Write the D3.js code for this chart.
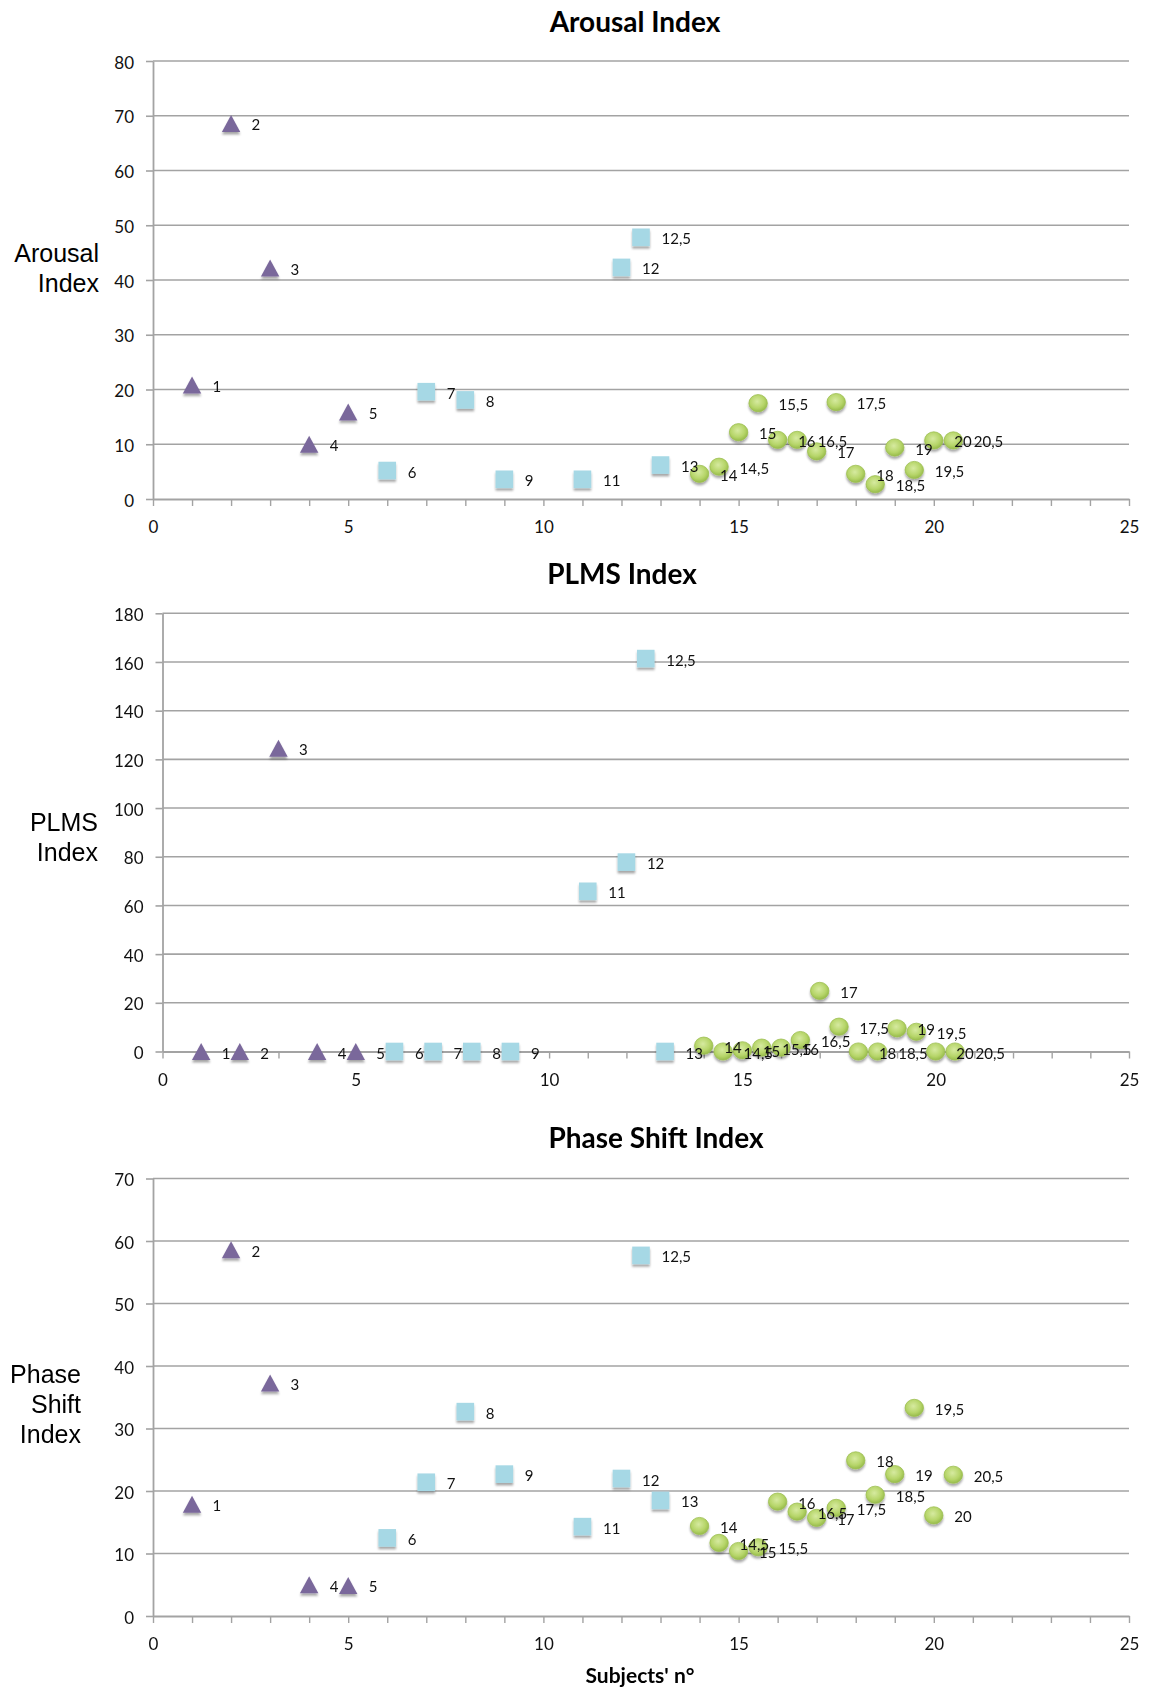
<!DOCTYPE html>
<html>
<head>
<meta charset="utf-8">
<script src="https://cdn.jsdelivr.net/npm/d3@7"></script>
<style>
  html, body { margin: 0; padding: 0; background: #fff; }
  svg { display: block; }
</style>
</head>
<body>
<svg id="chart" width="1149" height="1690"></svg>
<script>
// Subject numbers per group (shared by all three panels)
const triangleSubjects = [1, 2, 3, 4, 5];
const squareSubjects = [6, 7, 8, 9, 11, 12, 12.5, 13];
const circleSubjects = [14, 14.5, 15, 15.5, 16, 16.5, 17, 17.5, 18, 18.5, 19, 19.5, 20, 20.5];

// Arousal Index
const arousalTriangles = [20.8, 68.6, 42.2, 10.0, 15.9];
const arousalSquares = [5.2, 19.6, 18.1, 3.6, 3.6, 42.3, 47.8, 6.2];
const arousalCircles = [4.6, 5.9, 12.2, 17.5, 10.8, 10.8, 8.7, 17.7, 4.6, 2.7, 9.4, 5.3, 10.7, 10.7];

// PLMS Index
const plmsTriangles = [0, 0, 124.6, 0, 0];
const plmsSquares = [0, 0, 0, 0, 65.8, 77.8, 161.4, 0];
const plmsCircles = [2.4, 0, 0.5, 1.6, 1.6, 4.7, 24.9, 10.2, 0, 0, 9.5, 8.1, 0, 0];

// Phase Shift Index
const phaseTriangles = [17.9, 58.6, 37.3, 5.0, 4.9];
const phaseSquares = [12.5, 21.4, 32.7, 22.7, 14.3, 22.0, 57.7, 18.5];
const phaseCircles = [14.4, 11.7, 10.4, 11.0, 18.3, 16.7, 15.7, 17.3, 24.9, 19.4, 22.7, 33.3, 16.1, 22.6];

// Axis tick values
const xTicks = [0, 5, 10, 15, 20, 25];
const arousalTicks = [0, 10, 20, 30, 40, 50, 60, 70, 80];
const plmsTicks = [0, 20, 40, 60, 80, 100, 120, 140, 160, 180];
const phaseTicks = [0, 10, 20, 30, 40, 50, 60, 70];

const titles = ["Arousal Index", "PLMS Index", "Phase Shift Index"];
const yTitles = [["Arousal", "Index"], ["PLMS", "Index"], ["Phase", "Shift", "Index"]];
const xTitle = "Subjects' n°";

const COLORS = { triangle: "#7a679b", square: "#a6d8e5", circle: "#b6d569", grid: "#a3a3a3" };

const svg = d3.select("#chart");
const defs = svg.append("defs");

const shadow = defs.append("filter").attr("id", "mshadow")
  .attr("x", "-50%").attr("y", "-50%").attr("width", "200%").attr("height", "200%");
shadow.append("feDropShadow").attr("dx", 0).attr("dy", 2.5).attr("stdDeviation", 1.3)
  .attr("flood-color", "#000").attr("flood-opacity", 0.35);

const grad = defs.append("radialGradient").attr("id", "greenBall")
  .attr("cx", "45%").attr("cy", "40%").attr("r", "60%");
grad.append("stop").attr("offset", "0%").attr("stop-color", "#d6eaa0");
grad.append("stop").attr("offset", "65%").attr("stop-color", "#b6d569");
grad.append("stop").attr("offset", "100%").attr("stop-color", "#97bb4b");

const panels = [
  { left: 153, right: 1129, top: 61, bottom: 499, max: 80, ticks: arousalTicks,
    tri: arousalTriangles, sq: arousalSquares, circ: arousalCircles,
    titleX: 635, titleY: 32, yTitleX: 99, yTitleY: 262 },
  { left: 162.5, right: 1129, top: 613.3, bottom: 1051.5, max: 180, ticks: plmsTicks,
    tri: plmsTriangles, sq: plmsSquares, circ: plmsCircles,
    titleX: 622, titleY: 584, yTitleX: 98, yTitleY: 831 },
  { left: 153, right: 1129, top: 1178.5, bottom: 1616, max: 70, ticks: phaseTicks,
    tri: phaseTriangles, sq: phaseSquares, circ: phaseCircles,
    titleX: 656, titleY: 1148, yTitleX: 81, yTitleY: 1383 }
];

const fmt = v => String(v).replace(".", ",");

panels.forEach((p, i) => {
  const x = d3.scaleLinear().domain([0, 25]).range([p.left, p.right]);
  const y = d3.scaleLinear().domain([0, p.max]).range([p.bottom, p.top]);
  const g = svg.append("g");

  // horizontal gridlines
  g.append("g").selectAll("line").data(p.ticks.filter(t => t > 0)).join("line")
    .attr("x1", p.left).attr("x2", p.right)
    .attr("y1", d => y(d)).attr("y2", d => y(d))
    .attr("stroke", COLORS.grid).attr("stroke-width", 1.6);

  // y axis
  const yAxis = g.append("g").attr("transform", `translate(${p.left},0)`)
    .call(d3.axisLeft(y).tickValues(p.ticks).tickSize(7).tickSizeOuter(0).tickPadding(12));
  yAxis.select(".domain").attr("stroke", COLORS.grid).attr("stroke-width", 1.8);
  yAxis.selectAll(".tick line").attr("stroke", COLORS.grid).attr("stroke-width", 1.6);
  yAxis.selectAll("text").attr("font-family", "Lato, 'Open Sans', sans-serif")
    .attr("font-size", 17).attr("fill", "#111").attr("dy", "0.42em");

  // x axis
  const xAxis = g.append("g").attr("transform", `translate(0,${p.bottom})`)
    .call(d3.axisBottom(x).tickValues(d3.range(0, 26)).tickSize(7).tickSizeOuter(0)
      .tickPadding(15).tickFormat(d => xTicks.includes(d) ? d : ""));
  xAxis.select(".domain").attr("stroke", COLORS.grid).attr("stroke-width", 1.8);
  xAxis.selectAll(".tick line").attr("stroke", COLORS.grid).attr("stroke-width", 1.4);
  xAxis.selectAll("text").attr("font-family", "Lato, 'Open Sans', sans-serif")
    .attr("font-size", 17).attr("fill", "#111");

  // chart title
  g.append("text").attr("x", p.titleX).attr("y", p.titleY).attr("text-anchor", "middle")
    .attr("font-family", "Lato, sans-serif").attr("font-weight", "bold").attr("font-size", 28)
    .attr("fill", "#000").text(titles[i]);

  // y axis title
  g.append("text").attr("text-anchor", "end")
    .attr("font-family", "'Liberation Sans', Arial, sans-serif").attr("font-size", 25).attr("fill", "#000")
    .selectAll("tspan").data(yTitles[i]).join("tspan")
    .attr("x", p.yTitleX).attr("y", (d, k) => p.yTitleY + k * 30).text(d => d);

  const series = [
    { kind: "triangle", xs: triangleSubjects, vs: p.tri },
    { kind: "square", xs: squareSubjects, vs: p.sq },
    { kind: "circle", xs: circleSubjects, vs: p.circ }
  ];

  const marks = g.append("g");
  const labels = g.append("g").attr("font-family", "Lato, 'Open Sans', sans-serif")
    .attr("font-size", 15).attr("fill", "#111");

  series.forEach(s => {
    const pts = s.xs.map((sx, k) => ({ sx, v: s.vs[k] }));
    const sel = marks.append("g").attr("filter", "url(#mshadow)")
      .selectAll("g").data(pts).join("g")
      .attr("transform", d => `translate(${x(d.sx)},${y(d.v)})`);
    if (s.kind === "triangle") {
      sel.append("path").attr("d", "M0,-8.5L9.2,8.5L-9.2,8.5Z").attr("fill", COLORS.triangle);
    } else if (s.kind === "square") {
      sel.append("rect").attr("x", -8.8).attr("y", -8.8).attr("width", 17.6).attr("height", 17.6)
        .attr("fill", COLORS.square);
    } else {
      sel.append("ellipse").attr("rx", 9.2).attr("ry", 8.6).attr("fill", "url(#greenBall)")
        .attr("stroke", "#9dbf52").attr("stroke-width", 0.8);
    }
    labels.selectAll(null).data(pts).join("text")
      .attr("x", d => x(d.sx) + 20.5).attr("y", d => y(d.v) + 7)
      .text(d => fmt(d.sx));
  });

  if (i === 2) {
    svg.append("text").attr("x", 640).attr("y", 1683).attr("text-anchor", "middle")
      .attr("font-family", "Lato, sans-serif").attr("font-weight", "bold").attr("font-size", 21)
      .attr("fill", "#000").text(xTitle);
  }
});
</script>
</body>
</html>
